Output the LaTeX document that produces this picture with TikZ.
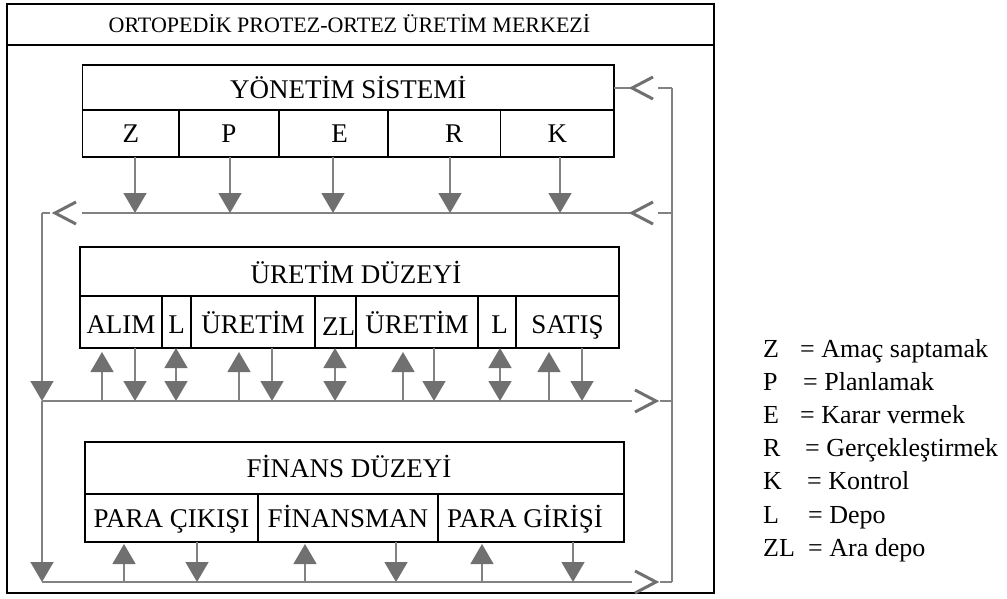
\documentclass[tikz,border=0pt]{standalone}
\usepackage{fontspec}
\setmainfont{Liberation Serif}
\usetikzlibrary{arrows.meta}
\definecolor{flowgray}{RGB}{130,130,130}
\definecolor{tipgray}{RGB}{112,112,112}
\begin{document}
\begin{tikzpicture}[x=1pt,y=-1pt,
  frame/.style={draw,line width=1.6pt,inner sep=0pt,outer sep=0pt},
  box/.style={draw,line width=1.4pt,inner sep=0pt,outer sep=0pt,text height=18pt,text depth=0pt,font=\fontsize{27}{32}\selectfont},
  flow/.style={draw=flowgray,line width=1.5pt},
  farrow/.style={flow,-{Triangle[length=20pt,width=23pt,color=tipgray]}},
  darrow/.style={flow,{Triangle[length=20pt,width=23pt,color=tipgray]}-{Triangle[length=20pt,width=23pt,color=tipgray]}},
  chev/.style={draw=tipgray,line width=3pt},
  legend/.style={anchor=base west,inner sep=0pt,font=\fontsize{26}{32}\selectfont}]
\useasboundingbox (0,0) rectangle (1007,598);
% outer frame
\node[frame,minimum width=707pt,minimum height=41pt,text height=15pt,text depth=0pt,font=\fontsize{22}{26}\selectfont] (title) at (360.5,24.5) {\hspace*{-22pt}ORTOPEDİK PROTEZ-ORTEZ ÜRETİM MERKEZİ};
\node[frame,minimum width=707pt,minimum height=548pt] (frame) at (360.5,319) {};
% management
\node[box,minimum width=531.4pt,minimum height=45pt,text height=21pt] (ms) at (348.3,87.5) {YÖNETİM SİSTEMİ};
\node[box,minimum width=96.4pt,minimum height=47pt,text height=17pt] (z) at (130.8,133.5) {Z};
\node[box,minimum width=100pt,minimum height=47pt,text height=17pt] (p) at (229,133.5) {P};
\node[box,minimum width=109pt,minimum height=47pt,text height=17pt] (e) at (333.5,133.5) {\hspace*{12pt}E};
\node[box,minimum width=112.5pt,minimum height=47pt,text height=17pt] (r) at (444.25,133.5) {\hspace*{20pt}R};
\node[box,minimum width=113.5pt,minimum height=47pt,text height=17pt] (k) at (557.25,133.5) {K};
% production
\node[box,minimum width=539pt,minimum height=49pt,text height=23pt] (pd) at (349.5,271.5) {\hspace*{13pt}ÜRETİM DÜZEYİ};
\node[box,minimum width=82pt,minimum height=52pt,text height=23pt] (alim) at (121,322) {ALIM};
\node[box,minimum width=29pt,minimum height=52pt,text height=23pt] (l1) at (176.5,322) {L};
\node[box,minimum width=124pt,minimum height=52pt,text height=23pt] (ur1) at (253,322) {ÜRETİM};
\node[box,minimum width=41pt,minimum height=52pt,text height=27pt] (zl) at (335.5,322) {\hspace*{6pt}ZL};
\node[box,minimum width=122pt,minimum height=52pt,text height=23pt] (ur2) at (417,322) {ÜRETİM};
\node[box,minimum width=38pt,minimum height=52pt,text height=23pt] (l2) at (497,322) {\hspace*{5pt}L};
\node[box,minimum width=103pt,minimum height=52pt,text height=23pt] (sat) at (567.5,322) {SATIŞ};
% finance
\node[box,minimum width=539pt,minimum height=52pt] (fd) at (354.5,468) {\hspace*{-11pt}FİNANS DÜZEYİ};
\node[box,minimum width=173pt,minimum height=48pt,text height=19pt] (pc) at (171.5,518) {PARA ÇIKIŞI};
\node[box,minimum width=180pt,minimum height=48pt,text height=19pt] (fm) at (348,518) {FİNANSMAN};
\node[box,minimum width=186pt,minimum height=48pt,text height=19pt] (pg) at (531,518) {\hspace*{-12pt}PARA GİRİŞİ};
% flow lines
\coordinate (tl) at (42,213);
\coordinate (tr) at (672,213);
\coordinate (ml) at (42,401);
\coordinate (mr) at (672,401);
\coordinate (bl) at (42,582);
\coordinate (br) at (672,582);
\coordinate (rt) at (672,88);
\coordinate (c1) at (632,88);
\coordinate (c2) at (632,213);
\coordinate (c3) at (55,213);
\coordinate (c4) at (656,401);
\coordinate (c5) at (656,582);
\draw[flow] (rt) -- (br);
\draw[flow] (rt) -- ([xshift=26pt]c1);
\draw[flow] ([xshift=-2pt]c1) -- (ms.east |- c1);
\draw[flow] (tr) -- ([xshift=26pt]c2);
\draw[flow] ([xshift=-2pt]c2) -- ([xshift=27pt]c3);
\draw[flow] ([xshift=-5pt]c3) -- (tl);
\draw[flow] (ml) -- ([xshift=-24pt]c4);
\draw[flow] ([xshift=4pt]c4) -- (mr);
\draw[flow] (bl) -- ([xshift=-24pt]c5);
\draw[flow] ([xshift=4pt]c5) -- (br);
\foreach \c in {c1,c2,c3}
  \draw[chev] ([shift={(21,-11)}]\c) -- (\c) -- ([shift={(21,11)}]\c);
\foreach \c in {c4,c5}
  \draw[chev] ([shift={(-21,-11)}]\c) -- (\c) -- ([shift={(-21,11)}]\c);
\draw[farrow] (tl) -- (ml);
\draw[farrow] (ml) -- (bl);
% arrows
\foreach \c/\x in {z/135,p/230,e/333,r/450,k/560}
  \draw[farrow] (\c.south -| \x,0) -- (tl -| \x,0);
\foreach \c/\x in {alim/102,ur1/239,ur2/403,sat/549}
  \draw[farrow,shorten >=4pt] (ml -| \x,0) -- (\c.south -| \x,0);
\foreach \c/\x in {alim/135,ur1/272,ur2/434,sat/582}
  \draw[farrow] (\c.south -| \x,0) -- (ml -| \x,0);
\foreach \c/\x in {l1/176,zl/335,l2/500}
  \draw[darrow] (ml -| \x,0) -- (\c.south -| \x,0);
\foreach \c/\x in {pc/124,fm/305,pg/482}
  \draw[farrow,shorten >=2pt] (bl -| \x,0) -- (\c.south -| \x,0);
\foreach \c/\x in {pc/197,fm/396,pg/573}
  \draw[farrow] (\c.south -| \x,0) -- (bl -| \x,0);
% legend
\foreach \a/\w/\s [count=\i] in {Z/37/Amaç saptamak,P/40/Planlamak,E/37/Karar vermek,R/42/Gerçekleştirmek,K/44/Kontrol,L/45/Depo,ZL/45/Ara depo}
  \node[legend] (leg\i) at (763,{357+(\i-1)*33.2}) {\makebox[\w pt][l]{\a}= \s};
\end{tikzpicture}
\end{document}
